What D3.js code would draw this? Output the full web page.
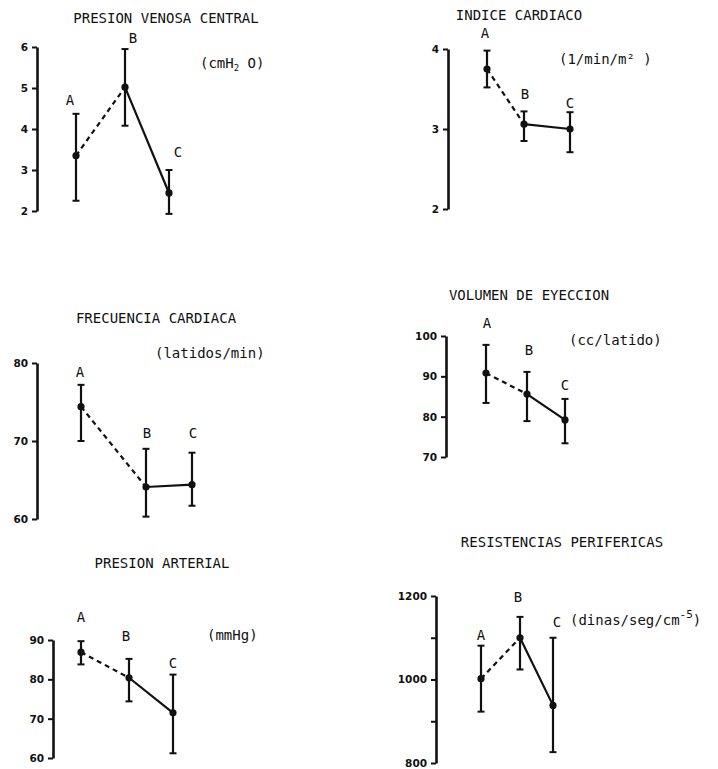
<!DOCTYPE html>
<html>
<head>
<meta charset="utf-8">
<script src="https://cdn.jsdelivr.net/npm/d3@7"></script>
<style>
  body { margin: 0; background: #fff; }
  svg { display: block; }
  .title, .unit, .cat { font-family: "DejaVu Sans Mono", monospace; font-size: 14px; fill: #111; }
  .axis text { font-family: "DejaVu Sans", sans-serif; font-weight: bold; font-size: 10.5px; fill: #111; }
  .axis path, .axis line { stroke: #111; }
</style>
</head>
<body>
<svg id="chart" width="718" height="769"></svg>
<script>

// categories (moments A, B, C)
var categories = ['A', 'B', 'C'];

// Presion venosa central
var pvcMean = [3.35, 5.02, 2.44];
var pvcHigh = [4.37, 5.95, 3.00];
var pvcLow  = [2.25, 4.08, 1.93];
var pvcTicks = [2, 3, 4, 5, 6];

// Indice cardiaco
var icMean = [3.75, 3.06, 3.00];
var icHigh = [3.98, 3.22, 3.21];
var icLow  = [3.52, 2.85, 2.71];
var icTicks = [2, 3, 4];

// Frecuencia cardiaca
var fcMean = [74.4, 64.1, 64.4];
var fcHigh = [77.2, 69.0, 68.5];
var fcLow  = [70.0, 60.3, 61.7];
var fcTicks = [60, 70, 80];

// Volumen de eyeccion
var veMean = [90.8, 85.6, 79.2];
var veHigh = [97.8, 91.1, 84.4];
var veLow  = [83.4, 78.9, 73.4];
var veTicks = [70, 80, 90, 100];

// Presion arterial
var paMean = [86.9, 80.4, 71.5];
var paHigh = [89.7, 85.2, 81.2];
var paLow  = [83.8, 74.4, 61.2];
var paTicks = [60, 70, 80, 90];

// Resistencias perifericas
var rpMean = [1002, 1100, 938];
var rpHigh = [1081, 1150, 1100];
var rpLow  = [923, 1024, 826];
var rpTicks = [800, 900, 1000, 1100, 1200];
var rpTickLabels = [800, 1000, 1200];

var svg = d3.select('#chart');

// Layout of each panel (positions only)
var panels = [
    { title: 'PRESION VENOSA CENTRAL', unit: ['(cmH', '2', ' O)'], mean: pvcMean, high: pvcHigh, low: pvcLow, ticks: pvcTicks,
      axisX: 37, yRange: [211, 47], xs: [76, 125, 169], titleXY: [166, 23], unitXY: [200, 68],
      labDx: [-6, 8, 9], labDy: [9, 6, 13] },
    { title: 'INDICE CARDIACO', unit: ['(1/min/m\u00B2\u2009)'], mean: icMean, high: icHigh, low: icLow, ticks: icTicks,
      axisX: 448, yRange: [209, 49], xs: [487, 524, 570], titleXY: [519, 20], unitXY: [559, 64],
      labDx: [-2, 1, 0], labDy: [13, 12, 4] },
    { title: 'FRECUENCIA CARDIACA', unit: ['(latidos/min)'], mean: fcMean, high: fcHigh, low: fcLow, ticks: fcTicks,
      axisX: 37, yRange: [519, 363], xs: [81, 146, 192], titleXY: [156, 323], unitXY: [155, 358],
      labDx: [-1, 1, 1], labDy: [8, 11, 15] },
    { title: 'VOLUMEN DE EYECCION', unit: ['(cc/latido)'], mean: veMean, high: veHigh, low: veLow, ticks: veTicks,
      axisX: 446, yRange: [457, 336], xs: [486, 527, 565], titleXY: [529, 300], unitXY: [569, 345],
      labDx: [1, 2, 0], labDy: [17, 17, 9] },
    { title: 'PRESION ARTERIAL', unit: ['(mmHg)'], mean: paMean, high: paHigh, low: paLow, ticks: paTicks,
      axisX: 53, yRange: [758, 640], xs: [81, 129, 173], titleXY: [162, 568], unitXY: [207, 640],
      labDx: [0, -3, 0], labDy: [19, 18, 7] },
    { title: 'RESISTENCIAS PERIFERICAS', unit: ['(dinas/seg/cm', '-5', ')'], mean: rpMean, high: rpHigh, low: rpLow, ticks: rpTicks,
      tickLabels: rpTickLabels,
      axisX: 436, yRange: [763, 596], xs: [481, 520, 553], titleXY: [562, 547], unitXY: [570, 625],
      labDx: [0, -2, 4], labDy: [6, 15, 11] }
];

panels.forEach(function(p, pi) {

    var g = svg.append('g');

    // Scales
    var y = d3.scaleLinear()
        .domain(d3.extent(p.ticks))
        .range(p.yRange);
    var x = d3.scaleOrdinal().domain(categories).range(p.xs);

    var labels = p.tickLabels || p.ticks;

    // Y axis
    var axis = g.append('g')
        .attr('class', 'axis')
        .attr('transform', 'translate(' + p.axisX + ',0)')
        .call(d3.axisLeft(y)
            .tickValues(p.ticks)
            .tickSize(5)
            .tickSizeOuter(0)
            .tickPadding(4)
            .tickFormat(function(d) { return labels.indexOf(d) >= 0 ? d : ''; }));
    axis.select('.domain').attr('stroke-width', 2.6);
    axis.selectAll('.tick line').attr('stroke-width', 2);

    // Title
    g.append('text')
        .attr('class', 'title')
        .attr('x', p.titleXY[0])
        .attr('y', p.titleXY[1])
        .attr('text-anchor', 'middle')
        .text(p.title);

    // Unit
    var unit = g.append('text')
        .attr('class', 'unit')
        .attr('x', p.unitXY[0])
        .attr('y', p.unitXY[1]);
    unit.append('tspan').text(p.unit[0]);
    if (p.unit.length > 1) {
        var sub = p.unit[1] === '2';
        unit.append('tspan')
            .attr('font-size', sub ? '9px' : '11px')
            .attr('dy', sub ? 3 : -7)
            .text(p.unit[1]);
        unit.append('tspan')
            .attr('dy', sub ? -3 : 7)
            .text(p.unit[2]);
    }

    var pts = categories.map(function(c, i) {
        return { cat: c, mean: p.mean[i], high: p.high[i], low: p.low[i], i: i };
    });

    // Connecting lines: A-B dashed, B-C solid
    var line = d3.line()
        .x(function(d) { return x(d.cat); })
        .y(function(d) { return y(d.mean); });

    g.append('path')
        .datum(pts.slice(0, 2))
        .attr('d', line)
        .attr('fill', 'none')
        .attr('stroke', '#111')
        .attr('stroke-width', 2.2)
        .attr('stroke-dasharray', '5,4');

    g.append('path')
        .datum(pts.slice(1, 3))
        .attr('d', line)
        .attr('fill', 'none')
        .attr('stroke', '#111')
        .attr('stroke-width', 2.2);

    // Error bars
    var bars = g.selectAll('.err').data(pts).enter().append('g').attr('class', 'err');

    bars.append('line')
        .attr('x1', function(d) { return x(d.cat); })
        .attr('x2', function(d) { return x(d.cat); })
        .attr('y1', function(d) { return y(d.high); })
        .attr('y2', function(d) { return y(d.low); })
        .attr('stroke', '#111')
        .attr('stroke-width', 2.2);

    ['high', 'low'].forEach(function(k) {
        bars.append('line')
            .attr('x1', function(d) { return x(d.cat) - 3.5; })
            .attr('x2', function(d) { return x(d.cat) + 3.5; })
            .attr('y1', function(d) { return y(d[k]); })
            .attr('y2', function(d) { return y(d[k]); })
            .attr('stroke', '#111')
            .attr('stroke-width', 2);
    });

    bars.append('circle')
        .attr('cx', function(d) { return x(d.cat); })
        .attr('cy', function(d) { return y(d.mean); })
        .attr('r', 3.6)
        .attr('fill', '#111');

    // Category letters
    bars.append('text')
        .attr('class', 'cat')
        .attr('text-anchor', 'middle')
        .attr('x', function(d) { return x(d.cat) + p.labDx[d.i]; })
        .attr('y', function(d) { return y(d.high) - p.labDy[d.i]; })
        .text(function(d) { return d.cat; });
});

</script>
</body>
</html>
